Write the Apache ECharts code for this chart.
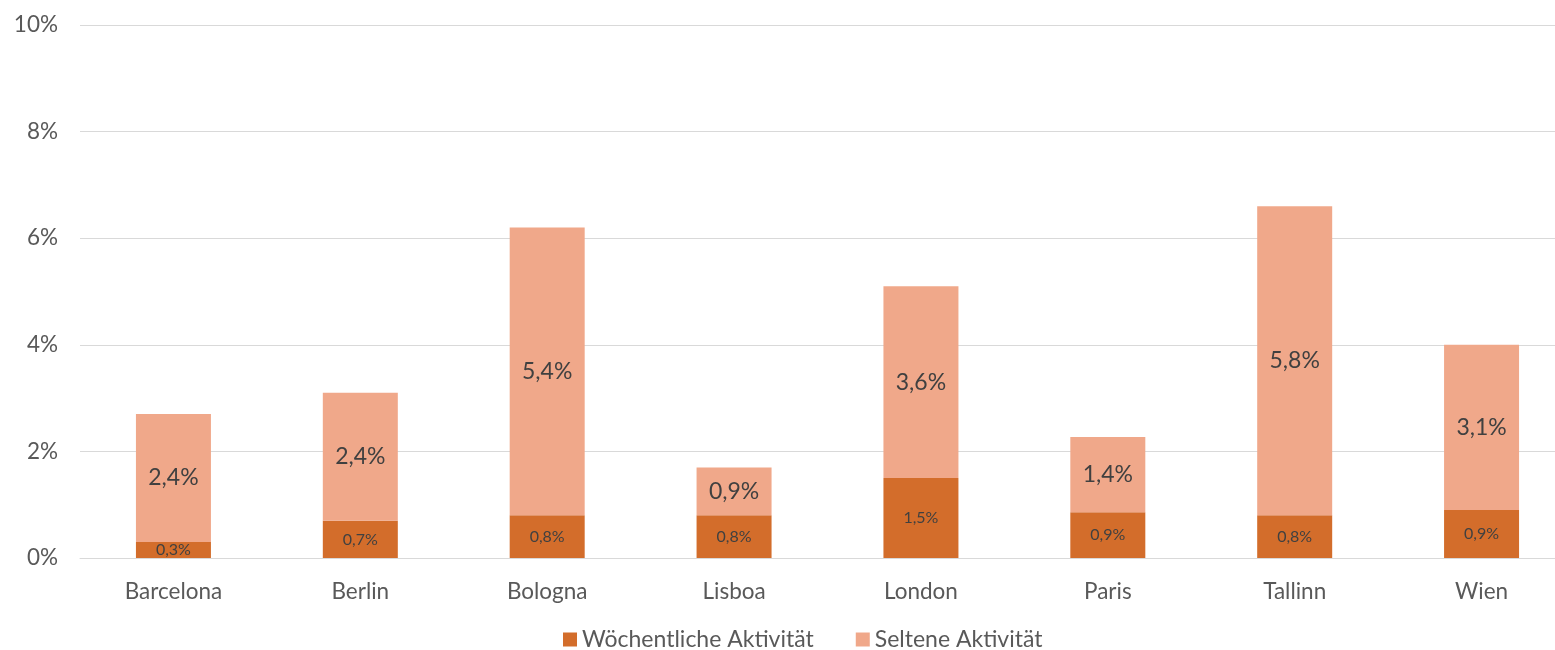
<!DOCTYPE html>
<html><head><meta charset="utf-8">
<script src="https://cdn.jsdelivr.net/npm/echarts@6/dist/echarts.min.js"></script>
<style>html,body{margin:0;padding:0;background:#fff}#c{width:1555px;height:650px}</style>
</head><body><div id="c"></div>
<script>
const categories = ['Barcelona','Berlin','Bologna','Lisboa','London','Paris','Tallinn','Wien'];
const weekly = [0.3, 0.7, 0.8, 0.8, 1.5, 0.86, 0.8, 0.9];
const rare = [2.4, 2.4, 5.4, 0.9, 3.6, 1.41, 5.8, 3.1];
const yTicks = [0, 2, 4, 6, 8, 10];
const seriesNames = ['Wöchentliche Aktivität', 'Seltene Aktivität'];

const font = 'Lato, "Noto Sans", sans-serif';
const fmt = p => p.value.toFixed(1).replace('.', ',') + '%';
const chart = echarts.init(document.getElementById('c'), null, {renderer: 'canvas'});
chart.setOption({
  animation: false,
  textStyle: {fontFamily: font},
  grid: {left: 80, top: 25, width: 1495, height: 533, containLabel: false, outerBoundsMode: 'none'},
  legend: {
    top: 623, left: 558, itemWidth: 14, itemHeight: 14, itemGap: 42,
    icon: 'rect',
    textStyle: {fontSize: 23, color: '#595959', fontFamily: font},
    data: seriesNames
  },
  xAxis: {
    type: 'category', data: categories,
    axisLine: {lineStyle: {color: '#D9D9D9', width: 1}},
    axisTick: {show: false},
    axisLabel: {fontSize: 22.5, color: '#595959', margin: 22, fontFamily: font}
  },
  yAxis: {
    type: 'value', min: yTicks[0], max: yTicks[yTicks.length-1], interval: 2,
    axisLine: {show: false}, axisTick: {show: false},
    splitLine: {lineStyle: {color: '#D9D9D9', width: 1}},
    axisLabel: {fontSize: 22.5, color: '#595959', margin: 22, formatter: v => v + '%', fontFamily: font}
  },
  series: [
    {
      name: seriesNames[0], type: 'bar', stack: 's', data: weekly, barWidth: 75,
      itemStyle: {color: '#D36D2B'},
      label: {show: true, position: 'inside', formatter: fmt, fontSize: 16, color: '#404040', fontFamily: font}
    },
    {
      name: seriesNames[1], type: 'bar', stack: 's', data: rare, barWidth: 75,
      itemStyle: {color: '#F0A88A'},
      label: {show: true, position: 'inside', formatter: fmt, fontSize: 23, color: '#404040', fontFamily: font}
    }
  ]
});
</script></body></html>
